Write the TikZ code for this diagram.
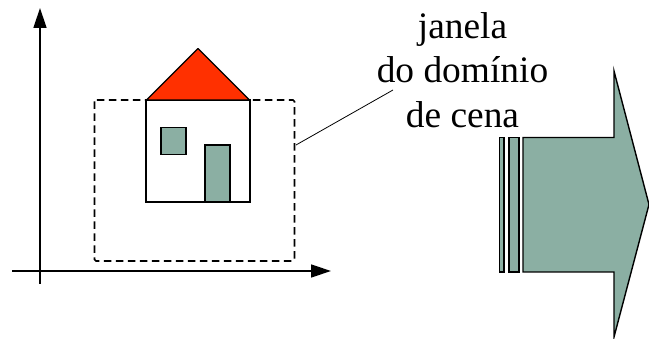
\documentclass[tikz,border=0pt]{standalone}
\usepackage{fontspec}
\setmainfont{Liberation Serif}
\usetikzlibrary{arrows.meta}
\definecolor{sage}{RGB}{139,175,163}
\definecolor{roofred}{RGB}{255,48,0}
\tikzset{
  x=1pt,y=-1pt,
  axisline/.style={line width=1.4pt,-{Triangle[length=20pt,width=13pt]}},
  outline/.style={draw=black,line width=1.4pt,line join=miter},
  filled/.style={outline,fill=sage},
  label/.style={font=\fontsize{37.4}{44.5}\selectfont,align=center,inner sep=0pt},
}
\begin{document}
\begin{tikzpicture}
\useasboundingbox (0,0) rectangle (649,339);

% coordinate axes
\coordinate (xstart) at (12,271);
\coordinate (xend) at (331,271);
\coordinate (ystart) at (40,284);
\coordinate (yend) at (40,8);
\draw[axisline] (xstart) -- (xend);
\draw[axisline] (ystart) -- (yend);

% scene window
\draw[line width=1.6pt,dash pattern=on 7.5pt off 4.5pt,rounded corners=1.5pt] (94.5,100) rectangle (294.5,261);

% house
\draw[outline,fill=white] (146,100) rectangle (250,202);
\draw[outline,fill=roofred,line join=round] (146.5,100) -- (198,48.5) -- (249.5,100) -- cycle;
\draw[filled] (161,127.5) rectangle (186,154.5);
\draw[filled,line width=1.7pt] (205,145) rectangle (230,202);

% caption and its leader
\node[label] (caption) at (462.5,70) {janela\\do domínio\\de cena};
\coordinate (leaderstart) at (296,145);
\coordinate (leaderend) at (393,90);
\draw[line width=0.8pt] (leaderstart) -- (leaderend);

% striped block arrow
\draw[filled] (499.5,137.5) rectangle (504,272);
\draw[filled] (509,137.5) rectangle (519,272);
\draw[filled] (523,137.5) -- (614,137.5) -- (614,71) -- (649,204.5) -- (614,337) -- (614,272) -- (523,272) -- cycle;
\end{tikzpicture}
\end{document}
